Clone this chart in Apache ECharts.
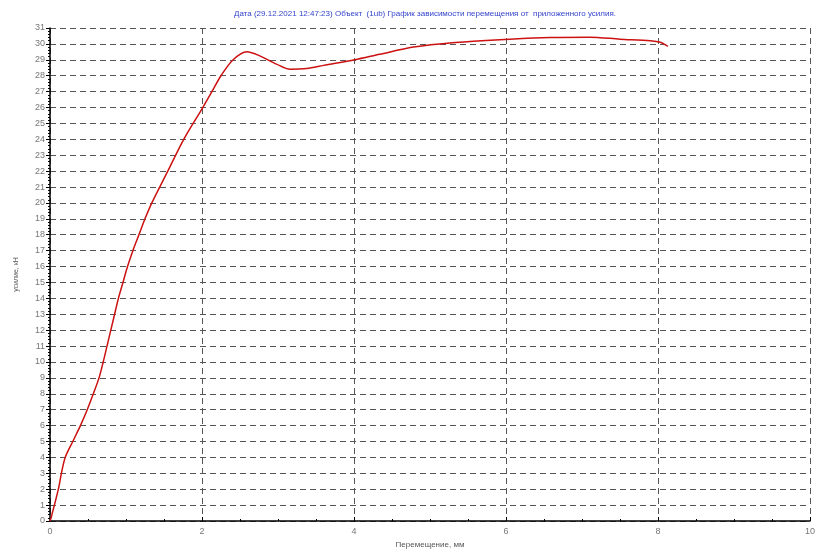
<!DOCTYPE html>
<html><head><meta charset="utf-8">
<script src="https://cdn.jsdelivr.net/npm/echarts@6/dist/echarts.min.js"></script>
<style>html,body{margin:0;padding:0;background:#fff}#c{width:832px;height:554px}</style>
</head><body><div id="c"></div>
<script>
const titleText = 'Дата (29.12.2021 12:47:23) Объект  (1ub) График зависимости перемещения от  приложенного усилия.';
const xName = 'Перемещение, мм';
const yName = 'усилие, кН';
const xs = [0, 0.02, 0.11, 0.15, 0.20, 0.30, 0.40, 0.49, 0.57, 0.645, 0.70, 0.75, 0.80, 0.85, 0.90, 0.96, 1.02, 1.09, 1.17, 1.25, 1.34, 1.55, 1.76, 2.01, 2.13, 2.25, 2.41, 2.59, 2.76, 2.98, 3.16, 3.38, 3.60, 4.01, 4.34, 4.78, 5.13, 5.57, 6.05, 6.58, 7.10, 7.50, 7.90, 8.03, 8.13];
const ys = [0, 0.3, 2.0, 3.0, 4.0, 5.0, 6.0, 7.0, 8.0, 9.0, 10.0, 11.0, 12.0, 13.0, 14.0, 15.0, 16.0, 17.0, 18.0, 19.0, 20.0, 22.0, 24.0, 26.0, 27.0, 28.0, 29.0, 29.5, 29.25, 28.73, 28.4, 28.45, 28.65, 29.0, 29.35, 29.8, 30.0, 30.17, 30.3, 30.4, 30.42, 30.3, 30.2, 30.1, 29.85];
const data = xs.map((x, i) => [x, ys[i]]);
const chart = echarts.init(document.getElementById('c'));
const dashed = {show: true, lineStyle: {color: '#555', type: [6, 4], width: 1}};
chart.setOption({
  animation: false,
  title: {text: titleText, left: 420, textAlign: 'center', top: 5, textStyle: {color: '#3344cc', fontSize: 8, fontWeight: 'normal', fontFamily: 'Liberation Sans'}},
  grid: {left: 50, right: 22, top: 28, bottom: 33},
  xAxis: {
    type: 'value', min: 0, max: 10, interval: 2,
    name: xName, nameLocation: 'middle', nameGap: 20,
    nameTextStyle: {color: '#555', fontSize: 8, fontFamily: 'Liberation Sans'},
    axisLine: {lineStyle: {color: '#000', width: 1.5}},
    axisTick: {show: true, inside: true, length: 4, lineStyle: {color: '#000'}},
    minorTick: {show: true, splitNumber: 4, length: 2, lineStyle: {color: '#000'}},
    axisLabel: {color: '#777', fontSize: 9, margin: 6, fontFamily: 'Liberation Sans'},
    splitLine: dashed
  },
  yAxis: {
    type: 'value', min: 0, max: 31, interval: 1,
    name: yName, nameLocation: 'middle', nameGap: 30, nameRotate: 90,
    nameTextStyle: {color: '#555', fontSize: 7, fontFamily: 'Liberation Sans'},
    axisLine: {lineStyle: {color: '#000', width: 1.5}},
    axisTick: {show: true, length: 4, lineStyle: {color: '#000'}},
    minorTick: {show: true, splitNumber: 5, length: 2, lineStyle: {color: '#000'}},
    axisLabel: {color: '#777', fontSize: 9, margin: 5, fontFamily: 'Liberation Sans'},
    splitLine: dashed
  },
  series: [{
    type: 'line', data: data, smooth: 0.3, showSymbol: false,
    lineStyle: {color: '#cc1111', width: 1.5}
  }]
});
</script></body></html>
